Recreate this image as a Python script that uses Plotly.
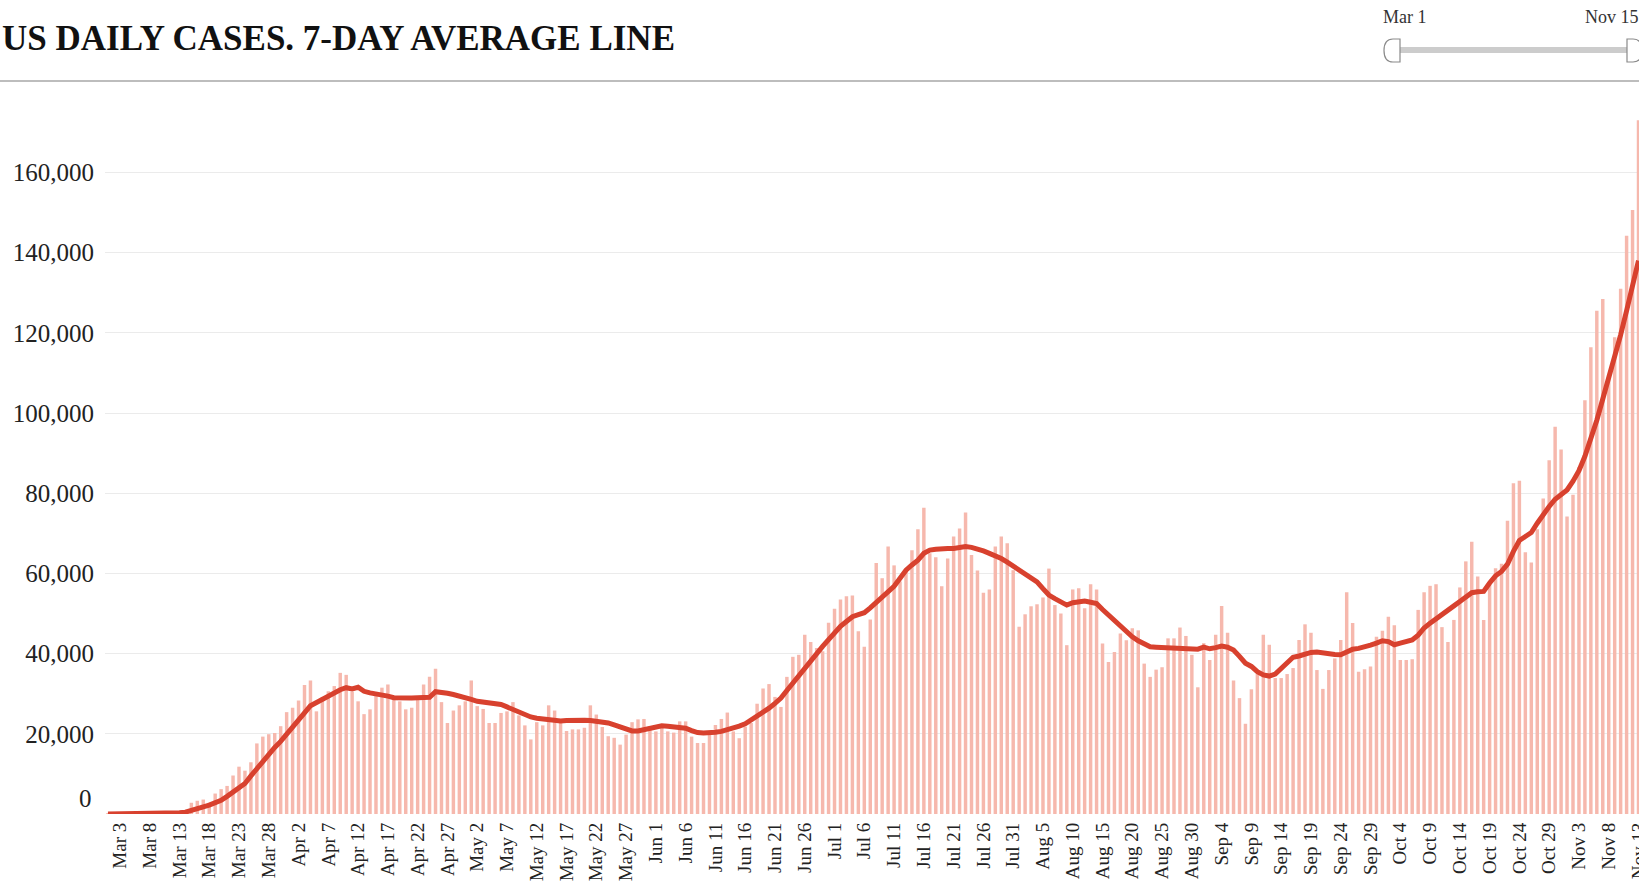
import pandas as pd
import plotly.graph_objects as go

# ---------------- data ----------------
start_date = "2020-03-01"

daily_cases = [
    10, 20, 25, 35, 60, 80, 110, 130, 180, 290, 420, 500, 700, 900,
    2800, 3300, 3600, 2800,
    5100, 6200, 7000, 9600, 11800, 10800, 12900, 17600, 19300, 19900, 20200, 21900,
    25400, 26500, 28300, 32200, 33300, 25600, 29200, 30600, 31900, 35200, 34700,
    30500, 28100, 24900,
    26100, 29800, 31500, 32300, 29000, 28100, 26100, 26500, 28600, 32300, 34200,
    36200, 27900, 22700, 25800, 27100, 28100, 33300, 26900, 26200, 22700, 22700,
    25200, 25600, 27900, 24600, 22100, 18600, 22900, 22100, 27100, 25800, 23600,
    20700, 21100, 21100, 21500, 27100, 24800, 21700, 19400, 19000, 17300, 19800,
    22900, 23600,
    23700, 21800, 20600, 21800, 20600, 20300, 23100, 23100, 19300, 17700, 17700,
    19800, 22200, 23700, 25300, 20600, 18900, 21800, 22700, 27500, 31300, 32400,
    29200, 26700, 34200, 39200, 39700, 44700, 42900, 41400, 40600, 47700, 51200,
    53500, 54300, 54500, 45600, 41700, 48500,
    62600, 58800, 66700, 62000, 58000, 60800, 65800, 71000, 76400, 65000, 64000,
    56800, 63700, 69200, 71200, 75200, 64600, 60700, 55200, 56000, 66700, 69200,
    67500, 60800, 46700, 49800, 51800, 52300, 54000, 61200, 52100, 50000, 42100,
    56000, 56300, 51300, 57300, 56000, 42500, 37900, 40400, 45000, 43300, 46300,
    45800, 37500, 34200,
    36000, 36600, 43800, 43800, 46500, 44400, 39700, 31600, 42600, 38400, 44700,
    51900, 45200, 33300, 28900, 22500, 31100, 34900, 44700, 42200, 33900, 33900,
    34900, 36400, 43400, 47300, 45200, 35900, 31200, 35900, 38800, 43400, 55300,
    47600, 35500, 36100, 36800, 44200, 45700, 49200, 47100, 38400, 38400, 38600,
    50900,
    55300, 56900, 57300, 46600, 42900, 48400, 56500, 63000, 67900, 59200, 48400,
    57300, 61300, 62400, 73100, 82500, 83100, 65300, 62700, 71000, 78700, 88200,
    96600, 90900, 74200, 79600, 86500, 103200, 116400, 125500, 128400, 109500,
    118900, 131000, 144200, 150600, 173000,
]

avg_7day = [
    0, 10, 15, 20, 30, 40, 55, 70, 90, 130, 180, 240, 330, 450,
    800, 1300, 1800, 2200, 2800, 3400, 4400, 5500, 6500, 7600, 9500, 11400, 13300,
    15100, 16600, 18100, 20000, 21800, 23500, 25200, 27000, 27800, 28500, 29500,
    30400, 31000, 31500, 31200, 31600, 30600,
    30200, 30000, 29800, 29400, 29000, 28900, 28800, 28900, 29000, 29000, 29100,
    30500, 30400, 30100, 29800, 29500, 29200, 28600, 28100, 27900, 27700, 27500,
    27300, 26700, 26100, 25400, 24600, 24200, 23900, 23700, 23600, 23400, 23200,
    23300, 23400, 23400, 23400, 23300, 23200, 23000, 22700, 22200, 21700, 21200,
    20700, 20700,
    21000, 21200, 21600, 22000, 21900, 21800, 21600, 21400, 20800, 20300, 20200,
    20200, 20400, 20600, 21000, 21300, 21900, 22500, 23400, 24300, 25300, 26400,
    27600, 28900, 30800, 32700, 34500, 36400, 38200, 40000, 41800, 43500, 45200,
    46800, 48000, 49200, 49700, 50200, 51400,
    52800, 54300, 55500, 56800, 58800, 60800, 62100, 63300, 65000, 65800, 66000,
    66200, 66200, 66200, 66500, 66700, 66500, 66200, 65600, 65000, 64400, 63700,
    62800, 61800, 60700, 59600, 58800, 57900, 56200, 54600, 53700, 52900, 52100,
    52700, 52900, 53100, 52800, 52500, 51000, 49600, 48100, 46700, 45400, 44200,
    43200, 42300, 41700,
    41600, 41500, 41400, 41300, 41300, 41300, 41200, 41100, 41600, 41200, 41500,
    41900, 41600, 40900, 39300, 37600, 36800, 35500, 34700, 34400, 34900, 36400,
    38000, 39100, 39400, 39900, 40300, 40400, 40100, 39900, 39800, 39700, 40500,
    41100, 41300, 41600, 42100, 42600, 43200, 43000, 42200, 42600, 42900, 43400,
    44600,
    46400, 47600, 48600, 49700, 50700, 51900, 53000, 54200, 55200, 55400, 55500,
    57600, 59400, 60500, 62300, 65500, 68200, 69200, 70200, 72500, 74700, 76700,
    78500, 79800, 80800, 83000, 85600, 89200, 93400, 98200, 103500, 108800,
    113500, 119500, 125500, 131500, 138000,
]

y_tick_values = [20000, 40000, 60000, 80000, 100000, 120000, 140000, 160000]
y_tick_labels = ["20,000", "40,000", "60,000", "80,000", "100,000", "120,000",
                 "140,000", "160,000"]
title_text = "US DAILY CASES. 7-DAY AVERAGE LINE"
slider_start_label = "Mar 1"
slider_end_label = "Nov 15"

dates = pd.date_range(start_date, periods=len(daily_cases), freq="D")
tick_dates = dates[2::5]
tick_labels = [f"{d.strftime('%b')} {d.day}" for d in tick_dates]

# ---------------- layout geometry (pixels) ----------------
W, H = 1639, 881
PL, PR, PT, PB = 105, 1639, 90, 814


def px(x):
    return (x - PL) / (PR - PL)


def py(y):
    return (PB - y) / (PB - PT)


SERIF = "Liberation Serif, Times New Roman, serif"
BAR_COLOR = "#f6b8ad"
LINE_COLOR = "#d8412e"

fig = go.Figure()
fig.add_trace(go.Bar(x=dates, y=daily_cases, marker=dict(color=BAR_COLOR, line=dict(width=0)),
                     name="Daily cases", hoverinfo="x+y"))
fig.add_trace(go.Scatter(x=dates, y=avg_7day, mode="lines",
                         line=dict(color=LINE_COLOR, width=5), name="7-day average"))

x_lo = pd.Timestamp(start_date) - pd.Timedelta(hours=12)
x_hi = pd.Timestamp(start_date) + pd.Timedelta(days=257, hours=2)
y_hi = (PB - PT) / 80.2 * 20000

shapes = [
    # header separator
    dict(type="line", xref="paper", yref="paper", x0=px(0), x1=px(W), y0=py(81), y1=py(81),
         line=dict(color="#bdbdbd", width=2)),
    # slider track
    dict(type="rect", xref="paper", yref="paper", x0=px(1399), x1=px(1628), y0=py(47), y1=py(53),
         fillcolor="#cccccc", line=dict(width=0)),
]


def handle_path(xf, xr, yt, yb, left=True):
    ym = (yt + yb) / 2
    d = 9 if left else -9
    return (f"M {px(xf)},{py(yt)} L {px(xr + d)},{py(yt)} "
            f"Q {px(xr)},{py(yt)} {px(xr)},{py(ym)} "
            f"Q {px(xr)},{py(yb)} {px(xr + d)},{py(yb)} L {px(xf)},{py(yb)} Z")


shapes.append(dict(type="path", xref="paper", yref="paper",
                   path=handle_path(1400, 1384, 39, 62, left=True),
                   fillcolor="white", line=dict(color="#8a8a8a", width=1.2)))
shapes.append(dict(type="path", xref="paper", yref="paper",
                   path=handle_path(1627, 1642, 39, 62, left=False),
                   fillcolor="white", line=dict(color="#8a8a8a", width=1.2)))

annotations = [
    dict(text=title_text, xref="paper", yref="paper", x=px(0), y=py(38),
         xanchor="left", yanchor="middle", showarrow=False,
         font=dict(family=SERIF, size=35, color="#111111", weight="bold")),
    dict(text=slider_start_label, xref="paper", yref="paper", x=px(1405), y=py(17),
         xanchor="center", yanchor="middle", showarrow=False,
         font=dict(family=SERIF, size=18, color="#333333")),
    dict(text=slider_end_label, xref="paper", yref="paper", x=px(1612), y=py(17),
         xanchor="center", yanchor="middle", showarrow=False,
         font=dict(family=SERIF, size=18, color="#333333")),
    # zero label sits slightly above the baseline in the original
    dict(text="0", xref="paper", yref="y", x=px(94), y=0, yshift=16,
         xanchor="right", yanchor="middle", showarrow=False,
         font=dict(family=SERIF, size=25, color="#222222")),
]

fig.update_layout(
    width=W, height=H,
    margin=dict(l=PL, r=W - PR, t=PT, b=H - PB, pad=0, autoexpand=False),
    paper_bgcolor="white", plot_bgcolor="white",
    showlegend=False,
    bargap=0.42,
    shapes=shapes,
    annotations=annotations,
    font=dict(family=SERIF, color="#222222"),
    xaxis=dict(
        type="date", range=[x_lo, x_hi],
        tickmode="array", tickvals=list(tick_dates), ticktext=tick_labels,
        tickangle=-90, tickfont=dict(family=SERIF, size=19, color="#222222"),
        showgrid=False, zeroline=False, showline=False, ticks="",
        automargin=False, ticklabelstandoff=4, ticklabeloverflow="allow",
    ),
    yaxis=dict(
        range=[0, y_hi],
        tickmode="array", tickvals=y_tick_values, ticktext=y_tick_labels,
        tickfont=dict(family=SERIF, size=25, color="#222222"),
        showgrid=True, gridcolor="#ebebeb", gridwidth=1,
        zeroline=False, showline=False, ticks="",
        automargin=False, ticklabelstandoff=10,
    ),
)

fig.write_html(
    "out.html",
    config={"displayModeBar": False},
    post_script="document.body.style.margin='0';document.body.style.overflow='hidden';",
)
